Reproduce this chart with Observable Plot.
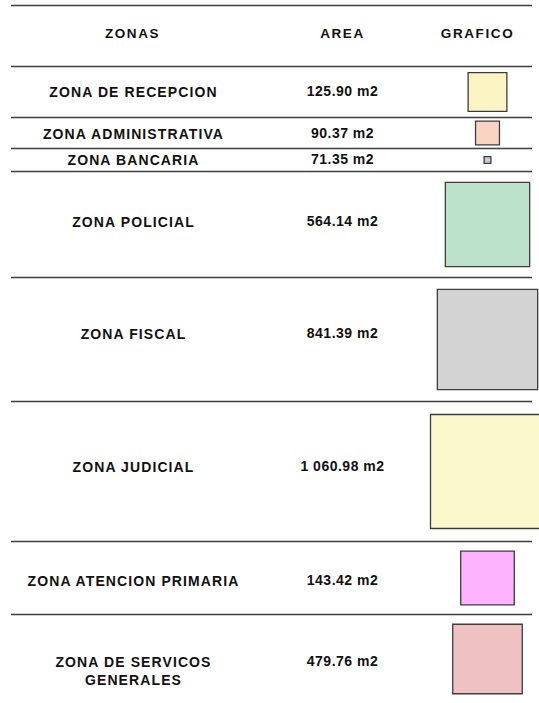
<!DOCTYPE html>
<html>
<head>
<meta charset="utf-8">
<script src="https://cdn.jsdelivr.net/npm/d3@7"></script>
<script src="https://cdn.jsdelivr.net/npm/@observablehq/plot@0.6"></script>
<style>
  html, body { margin: 0; padding: 0; background: #ffffff; overflow: hidden; }
  #chart svg { display: block; overflow: hidden; background: #ffffff; }
  .tabla text { letter-spacing: 1.1px; }
  .tabla g.enc-txt text { letter-spacing: 1.6px; }
  .tabla g.area-txt text { letter-spacing: 0.5px; }
</style>
</head>
<body>
<div id="chart"></div>
<script>
// ---------- DATA ----------
const encabezados = ["ZONAS", "AREA", "GRAFICO"];
const zonas = [
  "ZONA DE RECEPCION",
  "ZONA ADMINISTRATIVA",
  "ZONA BANCARIA",
  "ZONA POLICIAL",
  "ZONA FISCAL",
  "ZONA JUDICIAL",
  "ZONA ATENCION PRIMARIA",
  "ZONA DE SERVICOS\nGENERALES"
];
const areas = [125.90, 90.37, 71.35, 564.14, 841.39, 1060.98, 143.42, 479.76];
const areaEtiquetas = ["125.90 m2", "90.37 m2", "71.35 m2", "564.14 m2", "841.39 m2", "1 060.98 m2", "143.42 m2", "479.76 m2"];
// relative side of each drawn square (largest = 1)
const graficoLado = [0.34, 0.21, 0.06, 0.74, 0.88, 1.0, 0.47, 0.61];
const colores = ["#fcf5c3", "#f9d4c2", "#c8c8de", "#bde2cc", "#d3d3d3", "#fbf8cc", "#fdb3fd", "#efc1c2"];

// ---------- LAYOUT ----------
const layout = {
  ancho: 539, alto: 703,
  xZona: 133, xArea: 342, xGrafico: 487,
  xEncabezados: [132, 342, 477],
  xLinea1: 11, xLinea2: 532,
  yInicio: 5, altoEncabezado: 61,
  altoFilas: [51, 31, 23, 106, 124, 140, 73, 89],
  dyZona: [-0.5, 0.5, -0.5, -3, -6, -5, 2.5, 11.5],
  dyArea: [-0.5, 0.5, -0.5, -3, -6, -5, 2.5, 2.5],
  ladoMax: 114
};

let yTop = layout.yInicio + layout.altoEncabezado;
const filas = zonas.map((z, i) => {
  const top = yTop;
  yTop += layout.altoFilas[i];
  return {
    zona: z, area: areas[i], etiqueta: areaEtiquetas[i], lado: graficoLado[i],
    color: colores[i], top, centro: top + layout.altoFilas[i] / 2,
    yZona: top + layout.altoFilas[i] / 2 + layout.dyZona[i],
    yArea: top + layout.altoFilas[i] / 2 + layout.dyArea[i]
  };
});
const lineas = [layout.yInicio, ...filas.map(f => f.top)];
const yEncabezado = layout.yInicio + layout.altoEncabezado / 2 - 2.5;

const fuente = "'Liberation Sans', Arial, sans-serif";
const colorTexto = "#111111";

const chart = Plot.plot({
  width: layout.ancho,
  height: layout.alto,
  margin: 0,
  className: "tabla",
  style: { background: "#ffffff" },
  x: { domain: [0, layout.ancho], range: [0, layout.ancho], axis: null },
  y: { domain: [0, layout.alto], range: [0, layout.alto], axis: null },
  r: { type: "linear", domain: [0, 1], range: [0, layout.ladoMax / Math.sqrt(Math.PI)] },
  color: { type: "identity" },
  marks: [
    Plot.ruleY(lineas, { y: d => d, x1: layout.xLinea1, x2: layout.xLinea2, stroke: "#3e3e3e", strokeWidth: 1.6 }),
    Plot.text(encabezados, {
      x: (d, i) => layout.xEncabezados[i], y: () => yEncabezado, text: d => d,
      fontFamily: fuente, fontWeight: "bold", fontSize: 13.5, fill: colorTexto,
      className: "enc-txt"
    }),
    Plot.text(filas, {
      x: () => layout.xZona, y: "yZona", text: "zona",
      fontFamily: fuente, fontWeight: "bold", fontSize: 14, fill: colorTexto, lineHeight: 1.3
    }),
    Plot.text(filas, {
      x: () => layout.xArea, y: "yArea", text: "etiqueta",
      fontFamily: fuente, fontWeight: "bold", fontSize: 14, fill: colorTexto,
      className: "area-txt"
    }),
    Plot.dot(filas, {
      x: () => layout.xGrafico, y: "centro", r: "lado", symbol: "square",
      fill: "color", stroke: "#3d3d3d", strokeWidth: 1.3
    })
  ]
});
document.getElementById("chart").appendChild(chart);
</script>
</body>
</html>
